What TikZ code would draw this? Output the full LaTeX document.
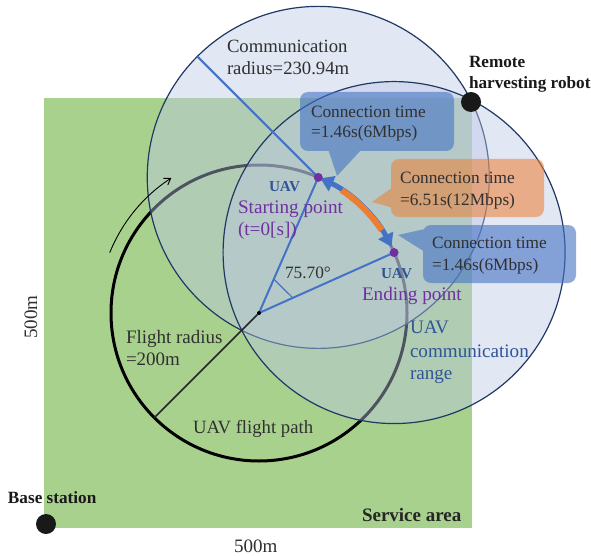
\documentclass[tikz,border=0pt]{standalone}
\usepackage{fontspec}
\setmainfont{Liberation Serif}
\usetikzlibrary{calc,arrows.meta}
\definecolor{areagreen}{HTML}{A9D18E}
\definecolor{circfill}{RGB}{188,200,231}
\definecolor{navy}{HTML}{203864}
\definecolor{uavblue}{HTML}{4472C4}
\definecolor{darkblue}{HTML}{2F5597}
\definecolor{uavpurple}{HTML}{7030A0}
\definecolor{calloutorange}{HTML}{ED7D31}
\definecolor{txt}{HTML}{303030}
\tikzset{
  lbl/.style={anchor=base west, inner sep=0pt, outer sep=0pt, text=txt},
  fsA/.style={font=\fontsize{17.3}{20}\selectfont},
  fsB/.style={font=\fontsize{18.7}{22}\selectfont},
  fsBold/.style={font=\fontsize{17.2}{20}\selectfont\bfseries},
  fsUAV/.style={font=\fontsize{15.2}{18}\selectfont\bfseries, text=darkblue},
  purplelbl/.style={font=\fontsize{19.2}{22}\selectfont, text=uavpurple},
  rangelbl/.style={font=\fontsize{19.1}{22}\selectfont, text=darkblue},
  commcircle/.style={draw=navy, line width=1.2pt, fill=circfill, fill opacity=0.42},
  bluecallout/.style={fill=uavblue, fill opacity=0.6},
  orangecallout/.style={fill=calloutorange, fill opacity=0.55},
  dotnode/.style={circle, inner sep=0pt, outer sep=0pt},
}
\begin{document}
\begin{tikzpicture}[x=1pt,y=-1pt]
\useasboundingbox (0,0) rectangle (591,556);
\fill[white] (0,0) rectangle (591,556);
% service area
\fill[areagreen] (44,98) rectangle (472,528);
% geometry
\coordinate (C) at (259,313);
\coordinate (S) at ($(C)+(-66.4:148)$);
\coordinate (E) at ($(C)+(-24.1:148)$);
\coordinate (CR) at ($(S)+(-135:171)$);
\coordinate (FR) at ($(C)+(-225:148)$);
\coordinate (A1) at ($(C)+(-66.4:37)$);
\coordinate (A2) at ($(C)+(-24.1:37)$);
% flight path
\draw[black, line width=3pt] (C) circle[radius=148];
% communication ranges
\path[commcircle] (S) circle[radius=171];
\path[commcircle] (E) circle[radius=171];
% radius lines
\draw[uavblue, line width=2pt] (S) -- (CR);
\draw[black!85, line width=1.6pt] (C) -- (FR);
\draw[uavblue, line width=2pt] (S) -- (C) -- (E);
\draw[uavblue, line width=1.2pt] (A1) -- (A2);
\node[dotnode, fill=black, minimum size=4pt] (Cdot) at (C) {};
% direction arrow
\draw[black, line width=0.9pt, -{Straight Barb[length=6pt,width=8pt]}]
  ($(C)+(-158:161)$) arc[start angle=-158, end angle=-123, radius=161];
% callouts
\fill[bluecallout] [rounded corners=8pt] (300,92) -- (454,92) -- (454,151) -- (300,151) -- cycle
  [sharp corners] (328,149) -- (362,149) -- (337,176) -- cycle;
\fill[orangecallout] [rounded corners=8pt] (391,159) -- (544,159) -- (544,217) -- (391,217) -- cycle
  [sharp corners] (393,187) -- (393,208) -- (372,202) -- cycle;
\fill[bluecallout] [rounded corners=8pt] (423,225) -- (576,225) -- (576,283) -- (423,283) -- cycle
  [sharp corners] (425,229) -- (425,252) -- (398,235) -- cycle;
% connection arc
\draw[uavblue, line width=5pt, {Triangle[length=13pt,width=16pt]}-{Triangle[length=13pt,width=16pt]}]
  ($(C)+(-26.5:148)$) arc[start angle=-26.5, end angle=-65.5, radius=148];
\draw[calloutorange, line width=6pt]
  ($(C)+(-34:148)$) arc[start angle=-34, end angle=-56, radius=148];
% dots
\node[dotnode, fill=uavpurple, minimum size=9pt] (Sdot) at (S) {};
\node[dotnode, fill=uavpurple, minimum size=9pt] (Edot) at (E) {};
\node[dotnode, fill=black!90, minimum size=20pt] (robot) at (471,102) {};
\node[dotnode, fill=black!90, minimum size=20pt] (base) at (46,524) {};
% texts
\node[lbl, fsB] (comm1) at (227,53) {Communication};
\node[lbl, fsB] (comm2) at (227,75) {radius=230.94m};
\node[lbl, fsBold, text=black!90] (rob1) at (469,68) {Remote};
\node[lbl, fsBold, text=black!90] (rob2) at (469,89) {harvesting robot};
\node[lbl, fsA] (ct1a) at (311,118) {Connection time};
\node[lbl, fsA] (ct1b) at (311,138) {=1.46s(6Mbps)};
\node[lbl, fsA] (ct2a) at (400,183) {Connection time};
\node[lbl, fsA] (ct2b) at (400,205) {=6.51s(12Mbps)};
\node[lbl, fsA] (ct3a) at (432,248) {Connection time};
\node[lbl, fsA] (ct3b) at (432,270) {=1.46s(6Mbps)};
\node[lbl, fsUAV] (uavS) at (269,192) {UAV};
\node[lbl, purplelbl] (startA) at (238,213) {Starting point};
\node[lbl, purplelbl] (startB) at (238,235) {(t=0[s])};
\node[lbl, fsA] (ang) at (285,278) {75.70°};
\node[lbl, fsUAV] (uavE) at (381,278) {UAV};
\node[lbl, purplelbl] (endA) at (362,300) {Ending point};
\node[lbl, rangelbl] (rngA) at (410,333) {UAV};
\node[lbl, rangelbl] (rngB) at (410,357) {communication};
\node[lbl, rangelbl] (rngC) at (410,379) {range};
\node[lbl, font=\fontsize{19}{22}\selectfont] (fr1) at (126,343) {Flight radius};
\node[lbl, font=\fontsize{19}{22}\selectfont] (fr2) at (126,365) {=200m};
\node[lbl, fsB] (fpath) at (193,433) {UAV flight path};
\node[lbl, fsBold, text=black!90] (basetxt) at (8,503) {Base station};
\node[lbl, font=\fontsize{19}{22}\selectfont\bfseries, text=black!85] (service) at (362,521) {Service area};
\node[lbl, font=\fontsize{19}{22}\selectfont] (w500) at (234,552) {500m};
\node[inner sep=0pt, outer sep=0pt, anchor=base, rotate=90, text=txt, font=\fontsize{19}{22}\selectfont] (h500) at (37,317) {500m};
\end{tikzpicture}
\end{document}
